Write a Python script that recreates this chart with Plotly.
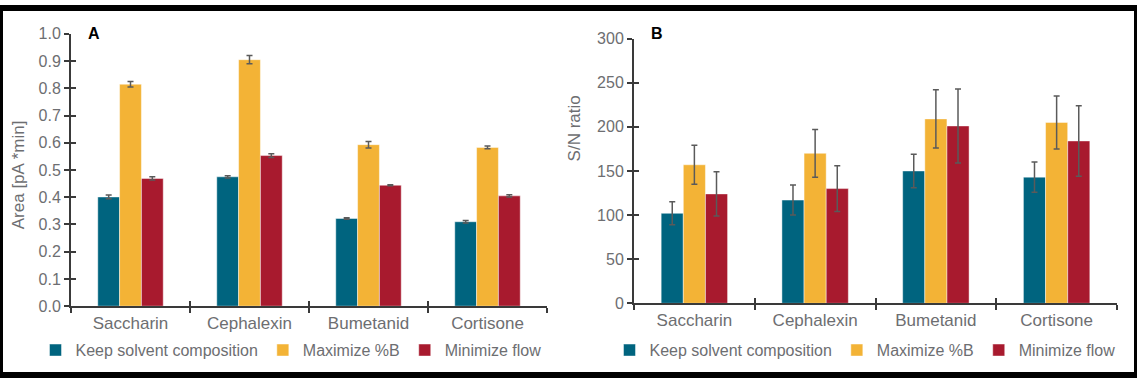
import plotly.graph_objects as go

W, H = 1137, 384

categories = ["Saccharin", "Cephalexin", "Bumetanid", "Cortisone"]
series_names = ["Keep solvent composition", "Maximize %B", "Minimize flow"]
colors = ["#00647f", "#f3b336", "#a81a2e"]

# Panel A: Area [pA*min]
area_keep = [0.401, 0.475, 0.322, 0.310]
area_maxb = [0.815, 0.905, 0.593, 0.583]
area_minf = [0.469, 0.553, 0.444, 0.405]
area_keep_err = [0.007, 0.004, 0.003, 0.005]
area_maxb_err = [0.010, 0.015, 0.012, 0.005]
area_minf_err = [0.006, 0.007, 0.002, 0.004]

# Panel B: S/N ratio
sn_keep = [102, 117, 150, 143]
sn_maxb = [157, 170, 209, 205]
sn_minf = [124, 130, 201, 184]
sn_keep_err = [13, 17, 19, 17]
sn_maxb_err = [22, 27, 33, 30]
sn_minf_err = [25, 26, 42, 40]

area_vals = [area_keep, area_maxb, area_minf]
area_errs = [area_keep_err, area_maxb_err, area_minf_err]
sn_vals = [sn_keep, sn_maxb, sn_minf]
sn_errs = [sn_keep_err, sn_maxb_err, sn_minf_err]

GRAY = "#6d6e71"
AX = "#3a3a3a"
FONT = "Liberation Sans, Arial, sans-serif"

def px_x(p):
    return p / W

def px_y(p):
    return (H - p) / H

fig = go.Figure()

for i, name in enumerate(series_names):
    fig.add_trace(go.Bar(
        x=categories, y=area_vals[i], name=name,
        marker=dict(color=colors[i], line=dict(color="rgba(255,255,255,0.45)", width=1)),
        error_y=dict(type="data", array=area_errs[i], color="#5a5a5a", thickness=1.5, width=3),
        xaxis="x", yaxis="y", legend="legend",
    ))
for i, name in enumerate(series_names):
    fig.add_trace(go.Bar(
        x=categories, y=sn_vals[i], name=name,
        marker=dict(color=colors[i], line=dict(color="rgba(255,255,255,0.45)", width=1)),
        error_y=dict(type="data", array=sn_errs[i], color="#5a5a5a", thickness=1.5, width=3),
        xaxis="x2", yaxis="y2", legend="legend2",
    ))

# invisible helper traces for the inner half of the crossing tick marks
fig.add_trace(go.Scatter(x=[], y=[], xaxis="x3", yaxis="y3", showlegend=False, hoverinfo="skip"))
fig.add_trace(go.Scatter(x=[], y=[], xaxis="x4", yaxis="y4", showlegend=False, hoverinfo="skip"))

domA_x = [px_x(71), px_x(547)]
domA_y = [px_y(312), px_y(27)]
domB_x = [px_x(634), px_x(1117)]
domB_y = [px_y(309), px_y(32)]

n = len(categories)
boundaries = [i - 0.5 for i in range(n + 1)]

common_x = dict(showgrid=False, zeroline=False, showline=True, linecolor=AX, linewidth=2,
                ticks="outside", ticklen=5, tickwidth=2, tickcolor=AX,
                tickson="boundaries", tickfont=dict(family=FONT, size=17, color=GRAY),
                range=[-0.5, n - 0.5], fixedrange=True)
common_y = dict(showgrid=False, zeroline=False, showline=True, linecolor=AX, linewidth=2,
                ticks="outside", ticklen=5, tickwidth=2, tickcolor=AX,
                tickfont=dict(family=FONT, size=16, color=GRAY), fixedrange=True)
inner = dict(showgrid=False, zeroline=False, showline=False, ticks="inside", ticklen=5,
             tickwidth=2, tickcolor=AX, showticklabels=False, fixedrange=True)

fig.update_layout(
    width=W, height=H,
    margin=dict(l=0, r=0, t=0, b=0),
    paper_bgcolor="white", plot_bgcolor="white",
    barmode="group", bargap=0.45, bargroupgap=0,
    font=dict(family=FONT, color=GRAY),
    xaxis=dict(domain=domA_x, anchor="y", **common_x),
    yaxis=dict(domain=domA_y, anchor="x", range=[0, 1.0], dtick=0.1, tickformat=".1f", **common_y),
    xaxis2=dict(domain=domB_x, anchor="y2", **common_x),
    yaxis2=dict(domain=domB_y, anchor="x2", range=[0, 300], dtick=50, **common_y),
    xaxis3=dict(overlaying="x", anchor="y3", range=[-0.5, n - 0.5], tickvals=boundaries, **inner),
    yaxis3=dict(overlaying="y", anchor="x3", range=[0, 1.0], dtick=0.1, **inner),
    xaxis4=dict(overlaying="x2", anchor="y4", range=[-0.5, n - 0.5], tickvals=boundaries, **inner),
    yaxis4=dict(overlaying="y2", anchor="x4", range=[0, 300], dtick=50, **inner),
    legend=dict(orientation="h", x=px_x(291), xanchor="center", y=px_y(358), yanchor="middle",
                font=dict(family=FONT, size=16, color=GRAY), bgcolor="rgba(0,0,0,0)"),
    legend2=dict(orientation="h", x=px_x(865), xanchor="center", y=px_y(358), yanchor="middle",
                 font=dict(family=FONT, size=16, color=GRAY), bgcolor="rgba(0,0,0,0)"),
    showlegend=True,
)

fig.add_annotation(text="Area [pA *min]", x=px_x(18), y=px_y(175), xref="paper", yref="paper",
                   textangle=-90, showarrow=False, xanchor="center", yanchor="middle",
                   font=dict(family=FONT, size=17, color=GRAY))
fig.add_annotation(text="S/N ratio", x=px_x(574), y=px_y(126), xref="paper", yref="paper",
                   textangle=-90, showarrow=False, xanchor="center", yanchor="middle",
                   font=dict(family=FONT, size=17, color=GRAY))
fig.add_annotation(text="<b>A</b>", x=px_x(94), y=px_y(27), xref="paper", yref="paper",
                   showarrow=False, xanchor="center", yanchor="middle",
                   font=dict(family=FONT, size=16, color="black"))
fig.add_annotation(text="<b>B</b>", x=px_x(657), y=px_y(27), xref="paper", yref="paper",
                   showarrow=False, xanchor="center", yanchor="middle",
                   font=dict(family=FONT, size=16, color="black"))

fig.add_shape(type="rect", xref="paper", yref="paper", x0=0, x1=1, y0=0, y1=1,
              line=dict(color="black", width=6), fillcolor="rgba(0,0,0,0)", layer="above")

fig.write_html("out.html", config={"displayModeBar": False},
               post_script="document.body.style.margin='0';document.body.style.overflow='hidden';")
